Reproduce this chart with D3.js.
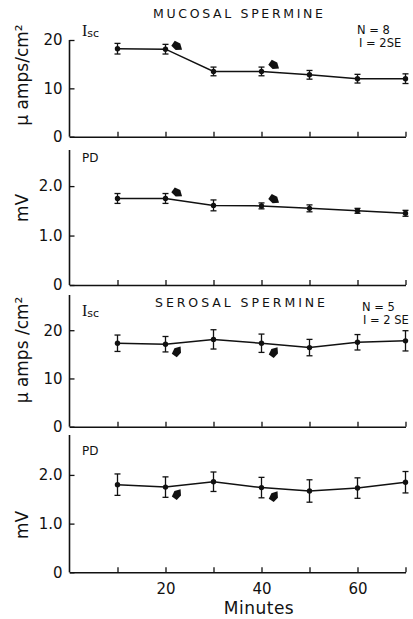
<!DOCTYPE html>
<html><head><meta charset="utf-8">
<script src="https://cdn.jsdelivr.net/npm/d3@7"></script>
<style>
body{margin:0;background:#fff}
svg text{font-family:"DejaVu Sans","Liberation Sans",sans-serif;fill:#111}
</style></head><body>
<svg id="c" width="413" height="619"></svg>
<script>
// ---- data ----
const minutes = [10, 20, 30, 40, 50, 60, 70];
const mucosalIsc = [18.2, 18.1, 13.5, 13.5, 12.8, 12.0, 12.0];
const mucosalIscErr = [1.1, 1.0, 0.9, 0.9, 0.9, 0.9, 1.0];
const mucosalPD = [1.75, 1.75, 1.61, 1.60, 1.55, 1.50, 1.45];
const mucosalPDErr = [0.10, 0.10, 0.11, 0.06, 0.07, 0.05, 0.06];
const serosalIsc = [17.3, 17.1, 18.1, 17.3, 16.4, 17.5, 17.8];
const serosalIscErr = [1.7, 1.6, 2.0, 1.9, 1.7, 1.6, 2.1];
const serosalPD = [1.80, 1.75, 1.86, 1.74, 1.67, 1.73, 1.85];
const serosalPDErr = [0.22, 0.21, 0.20, 0.21, 0.23, 0.21, 0.22];
const iscTicks = [0, 10, 20];
const iscTickLabels = ["0", "10", "20"];
const pdTicks = [0, 1, 2];
const pdTickLabels = ["0", "1.0", "2.0"];
const xTickLabels = {20: "20", 40: "40", 60: "60"};
const arrowMinutes = [21.8, 42];

const svg = d3.select("#c");
const x = d3.scaleLinear().domain([0, 70]).range([69.5, 405.5]);

const panels = [
  {vals: mucosalIsc, err: mucosalIscErr, dom: [0, 20], rng: [136.7, 40], ticks: iscTicks, labels: iscTickLabels,
   ytitle: "\u03bc amps/cm\u00b2", ty: 75, kind: "Isc", arrowDir: "above"},
  {vals: mucosalPD, err: mucosalPDErr, dom: [0, 2.73], rng: [285, 150], ticks: pdTicks, labels: pdTickLabels,
   ytitle: "mV", ty: 208, kind: "PD", arrowDir: "above"},
  {vals: serosalIsc, err: serosalIscErr, dom: [0, 27.3], rng: [426.7, 295], ticks: iscTicks, labels: iscTickLabels,
   ytitle: "\u03bc amps /cm\u00b2", ty: 350, kind: "Isc", arrowDir: "below"},
  {vals: serosalPD, err: serosalPDErr, dom: [0, 2.82], rng: [572.3, 435], ticks: pdTicks, labels: pdTickLabels,
   ytitle: "mV", ty: 525, kind: "PD", arrowDir: "below"}
];

panels.forEach((p, i) => {
  const y = d3.scaleLinear().domain(p.dom).range(p.rng);
  const g = svg.append("g");
  // y axis
  const ya = d3.axisLeft(y).tickValues(p.ticks).tickFormat((d, k) => p.labels[k])
    .tickSizeInner(-5).tickSizeOuter(0).tickPadding(7);
  const yg = g.append("g").attr("transform", `translate(${x(0)},0)`).call(ya);
  yg.select(".domain").attr("stroke", "#111").attr("stroke-width", 1.6)
    .attr("d", `M0,${p.rng[1]}V${p.rng[0]}`);
  yg.selectAll(".tick line").attr("stroke", "#111").attr("stroke-width", 1.3);
  yg.selectAll(".tick text").attr("font-size", 15).attr("fill", "#111")
    .style("font-family", "DejaVu Sans, sans-serif");
  // x axis
  const xa = d3.axisBottom(x).tickValues(minutes)
    .tickFormat(d => i === 3 && xTickLabels[d] ? xTickLabels[d] : "")
    .tickSizeInner(-5).tickSizeOuter(0).tickPadding(11);
  const xg = g.append("g").attr("transform", `translate(0,${p.rng[0]})`).call(xa);
  xg.select(".domain").attr("stroke", "#111").attr("stroke-width", 1.6);
  xg.selectAll(".tick line").attr("stroke", "#111").attr("stroke-width", 1.3);
  xg.selectAll(".tick text").attr("font-size", 15).attr("fill", "#111")
    .style("font-family", "DejaVu Sans, sans-serif");

  // y title
  g.append("text").attr("transform", `translate(28,${p.ty}) rotate(-90)`)
    .attr("text-anchor", "middle").attr("font-size", 17).text(p.ytitle);

  // panel label
  if (p.kind === "Isc") {
    const t = g.append("text").attr("x", 82).attr("y", i === 0 ? 36 : 316);
    t.append("tspan").attr("font-family", "Liberation Serif, serif").attr("font-size", 16).text("I");
    t.append("tspan").attr("font-size", 11).attr("dy", 1).text("sc");
  } else {
    g.append("text").attr("x", 82).attr("y", i === 1 ? 162 : 455).attr("font-size", 12).text("PD");
  }

  // line
  const line = d3.line().x((d, k) => x(minutes[k])).y(d => y(d));
  g.append("path").datum(p.vals).attr("d", line).attr("fill", "none")
    .attr("stroke", "#111").attr("stroke-width", 1.5);
  // error bars
  const eb = g.selectAll(".eb").data(p.vals).enter().append("g");
  eb.append("line").attr("x1", (d, k) => x(minutes[k])).attr("x2", (d, k) => x(minutes[k]))
    .attr("y1", (d, k) => y(d + p.err[k])).attr("y2", (d, k) => y(d - p.err[k]))
    .attr("stroke", "#111").attr("stroke-width", 1.3);
  [1, -1].forEach(s => {
    eb.append("line").attr("x1", (d, k) => x(minutes[k]) - 3).attr("x2", (d, k) => x(minutes[k]) + 3)
      .attr("y1", (d, k) => y(d + s * p.err[k])).attr("y2", (d, k) => y(d + s * p.err[k]))
      .attr("stroke", "#111").attr("stroke-width", 1.3);
  });
  eb.append("circle").attr("cx", (d, k) => x(minutes[k])).attr("cy", d => y(d)).attr("r", 2.7).attr("fill", "#111");

  // arrows (solid leaf-shaped markers pointing at the line)
  const interp = m => {
    const k = Math.floor(m / 10) - 1;
    const t = (m - minutes[k]) / 10;
    return p.vals[k] + (p.vals[k + 1] - p.vals[k]) * t;
  };
  arrowMinutes.forEach(m => {
    const ax = x(m) + 3, ay = y(interp(m)) + (p.arrowDir === "above" ? -7 : 8);
    const rot = p.arrowDir === "above" ? 35 : -55;
    g.append("path")
      .attr("d", "M-5,-3 L1,-4 L6,0 L1,4 L-5,3 Z")
      .attr("transform", `translate(${ax},${ay}) rotate(${rot})`)
      .attr("fill", "#111");
  });
});

// headers
svg.append("text").attr("x", 238).attr("y", 18).attr("text-anchor", "middle").attr("font-size", 12.5)
  .attr("textLength", 170).attr("lengthAdjust", "spacing").text("MUCOSAL SPERMINE");
svg.append("text").attr("x", 240).attr("y", 307).attr("text-anchor", "middle").attr("font-size", 12.5)
  .attr("textLength", 170).attr("lengthAdjust", "spacing").text("SEROSAL SPERMINE");

const notes = [
  {x: 357, y: 34, t: "N = 8"}, {x: 359, y: 47, t: "I = 2SE"},
  {x: 362, y: 311, t: "N = 5"}, {x: 363, y: 324, t: "I = 2 SE"}
];
notes.forEach(n => svg.append("text").attr("x", n.x).attr("y", n.y).attr("font-size", 11.5).text(n.t));

svg.append("text").attr("x", 259).attr("y", 614).attr("text-anchor", "middle").attr("font-size", 17)
  .attr("letter-spacing", 0.5).text("Minutes");
</script></body></html>
